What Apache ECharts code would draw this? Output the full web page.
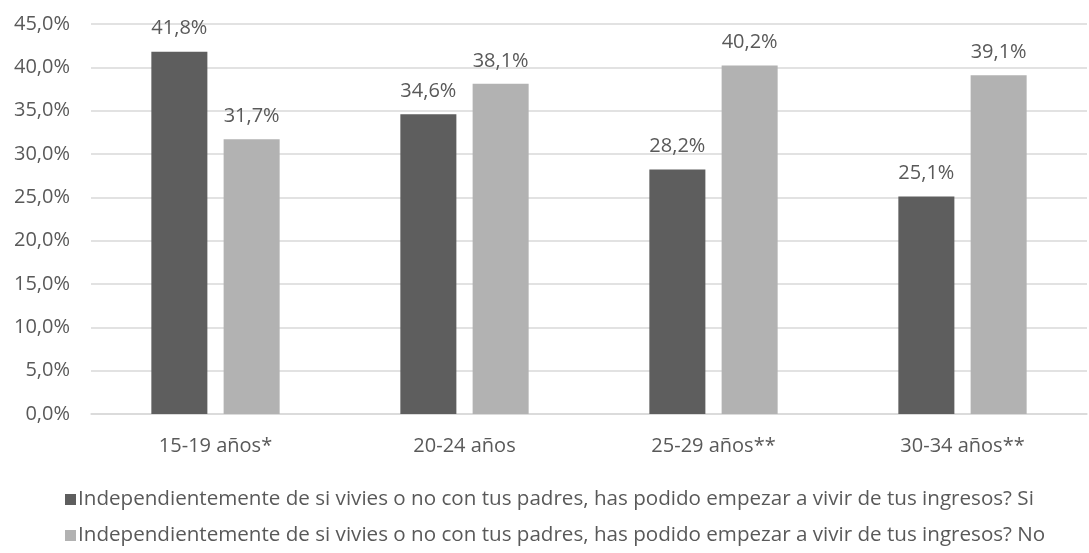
<!DOCTYPE html>
<html>
<head>
<meta charset="utf-8">
<script src="https://cdn.jsdelivr.net/npm/echarts@6/dist/echarts.min.js"></script>
<style>
  html, body { margin: 0; padding: 0; background: #fff; }
  #chart { width: 1089px; height: 553px; }
</style>
</head>
<body>
<div id="chart"></div>
<script>
// Age groups and the share answering Si / No
const categories = ['15-19 años*', '20-24 años', '25-29 años**', '30-34 años**'];
const seriesSi = [41.8, 34.6, 28.2, 25.1];
const seriesNo = [31.7, 38.1, 40.2, 39.1];
const nameSi = 'Independientemente de si vivies o no con tus padres, has podido empezar a vivir de tus ingresos? Si';
const nameNo = 'Independientemente de si vivies o no con tus padres, has podido empezar a vivir de tus ingresos? No';

const FONT = '"Open Sans", "Noto Sans", sans-serif';
const TEXT = '#595959';
const FS = 20;

const pct = v => v.toFixed(1).replace('.', ',') + '%';

const chart = echarts.init(document.getElementById('chart'));
chart.setOption({
  animation: false,
  textStyle: { fontFamily: FONT, color: TEXT },
  grid: { left: 91, right: 2, top: 24, bottom: 139, containLabel: false },
  legend: {
    orient: 'vertical',
    left: 60,
    top: 484,
    itemGap: 15,
    itemWidth: 11,
    itemHeight: 11,
    icon: 'rect',
    textStyle: { fontFamily: FONT, fontSize: 20.6, color: TEXT, padding: [0, 0, 0, -3] },
    data: [nameSi, nameNo]
  },
  xAxis: {
    type: 'category',
    data: categories,
    axisLine: { lineStyle: { color: '#d9d9d9', width: 1.5 } },
    axisTick: { show: false },
    axisLabel: { fontFamily: FONT, fontSize: FS, color: TEXT, margin: 22 }
  },
  yAxis: {
    type: 'value',
    min: 0,
    max: 45,
    interval: 5,
    axisLine: { show: false },
    axisTick: { show: false },
    splitLine: { lineStyle: { color: '#d9d9d9', width: 1.5 } },
    axisLabel: { fontFamily: FONT, fontSize: FS, color: TEXT, margin: 21, formatter: pct }
  },
  series: [
    {
      name: nameSi,
      type: 'bar',
      data: seriesSi,
      barWidth: '22.5%',
      barGap: '29%',
      itemStyle: { color: '#5e5e5e' },
      label: { show: true, position: 'top', distance: 13, fontFamily: FONT, fontSize: FS, color: TEXT, formatter: p => pct(p.value) }
    },
    {
      name: nameNo,
      type: 'bar',
      data: seriesNo,
      barWidth: '22.5%',
      itemStyle: { color: '#b2b2b2' },
      label: { show: true, position: 'top', distance: 13, fontFamily: FONT, fontSize: FS, color: TEXT, formatter: p => pct(p.value) }
    }
  ]
});
</script>
</body>
</html>
